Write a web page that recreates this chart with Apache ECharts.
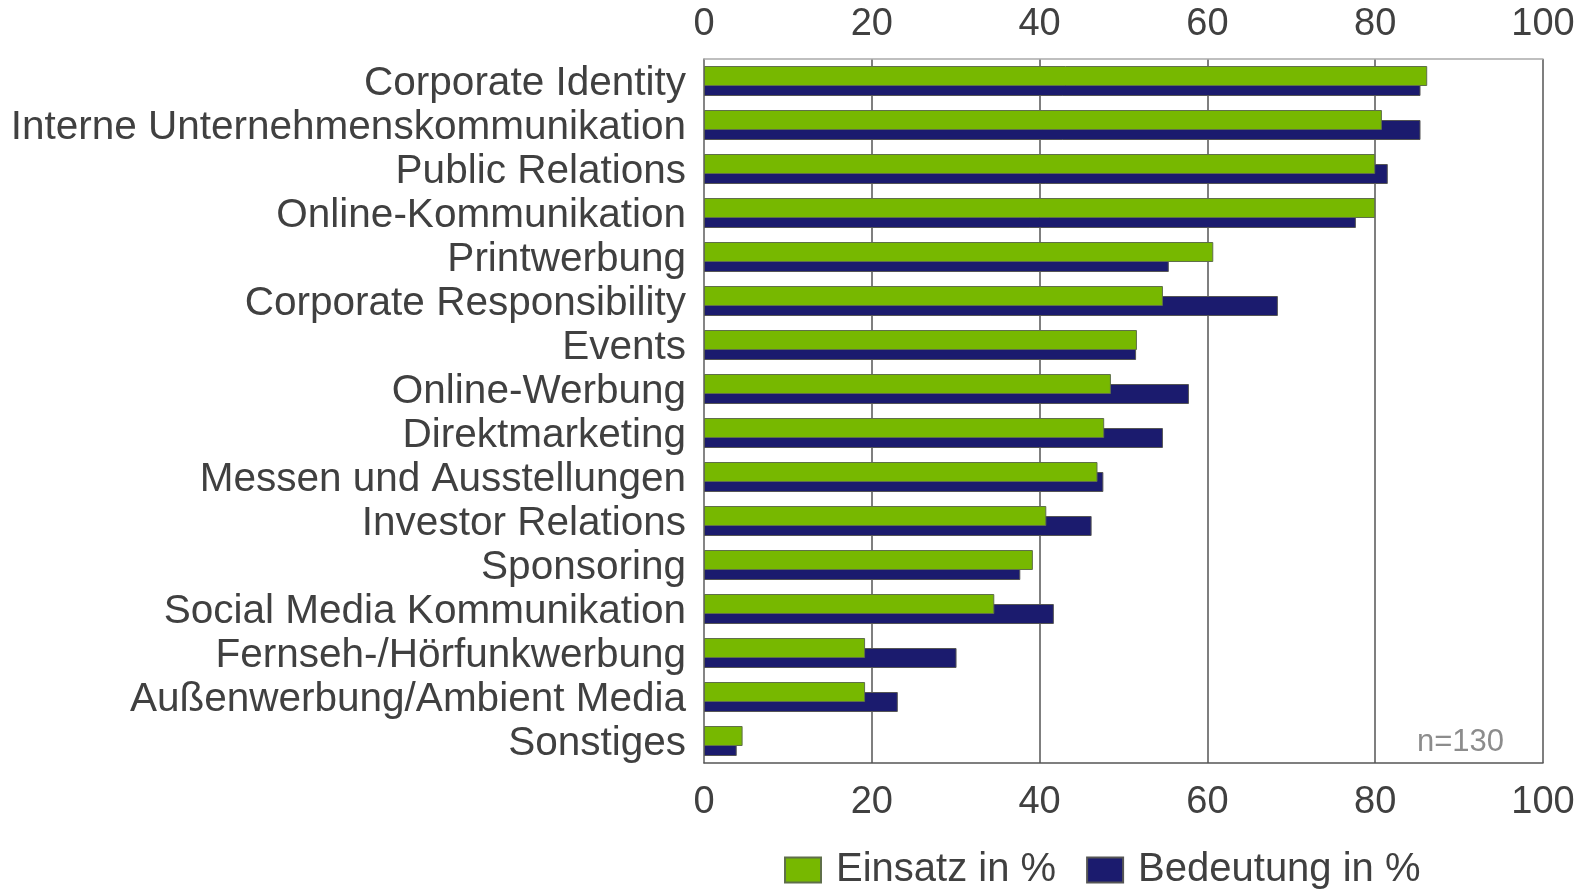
<!DOCTYPE html>
<html>
<head>
<meta charset="utf-8">
<script src="https://cdn.jsdelivr.net/npm/echarts@6/dist/echarts.min.js"></script>
<style>
  html, body { margin: 0; padding: 0; background: #fff; }
  #chart { width: 1585px; height: 889px; }
</style>
</head>
<body>
<div id="chart"></div>
<script>
var categories = ['Corporate Identity', 'Interne Unternehmenskommunikation', 'Public Relations', 'Online-Kommunikation',
    'Printwerbung', 'Corporate Responsibility', 'Events', 'Online-Werbung', 'Direktmarketing',
    'Messen und Ausstellungen', 'Investor Relations', 'Sponsoring', 'Social Media Kommunikation',
    'Fernseh-/Hörfunkwerbung', 'Außenwerbung/Ambient Media', 'Sonstiges'];
var einsatz = [86.2, 80.8, 80.0, 80.0, 60.7, 54.7, 51.6, 48.5, 47.7, 46.9, 40.8, 39.2, 34.6, 19.2, 19.2, 4.6];
var bedeutung = [85.4, 85.4, 81.5, 77.7, 55.4, 68.4, 51.5, 57.8, 54.7, 47.6, 46.2, 37.7, 41.7, 30.1, 23.1, 3.9];
var seriesNames = ['Einsatz in %', 'Bedeutung in %'];
var noteText = 'n=130';

var chartDom = document.getElementById('chart');
var myChart = echarts.init(chartDom);
var fontName = '"Liberation Sans", Arial, sans-serif';

var xAxisCommon = {
    type: 'value',
    min: 0,
    max: 100,
    interval: 20,
    axisTick: { show: false },
    axisLabel: {
        color: '#404040',
        fontSize: 38,
        fontFamily: fontName
    }
};

var option = {
    animation: false,
    grid: {
        left: 704,
        right: 42,
        top: 59,
        bottom: 126,
        containLabel: false
    },
    legend: {
        left: 779,
        top: 843,
        itemWidth: 36,
        itemHeight: 25,
        itemGap: 30,
        icon: 'rect',
        textStyle: {
            color: '#404040',
            fontSize: 40,
            fontFamily: fontName,
            lineHeight: 44,
            padding: [0, 0, 0, 10]
        },
        data: seriesNames
    },
    xAxis: [
        Object.assign({}, xAxisCommon, {
            position: 'bottom',
            axisLabel: Object.assign({}, xAxisCommon.axisLabel, { margin: 21 }),
            axisLine: { show: true, lineStyle: { color: '#555', width: 1.5 } },
            splitLine: { show: true, lineStyle: { color: '#555', width: 1.5 } }
        }),
        Object.assign({}, xAxisCommon, {
            position: 'top',
            axisLabel: Object.assign({}, xAxisCommon.axisLabel, { margin: 15 }),
            axisLine: { show: true, lineStyle: { color: '#aaa', width: 1.5 } },
            splitLine: { show: false }
        })
    ],
    yAxis: {
        type: 'category',
        data: categories,
        inverse: true,
        axisTick: { show: false },
        axisLine: { show: true, lineStyle: { color: '#888', width: 1.5 } },
        axisLabel: {
            interval: 0,
            margin: 18,
            formatter: function (value) {
                return '{c|' + value + '}';
            },
            rich: {
                c: {
                    color: '#404040',
                    fontSize: 40.5,
                    fontFamily: fontName,
                    padding: [6, 0, 0, 0]
                }
            }
        }
    },
    graphic: [{
        type: 'text',
        right: 81,
        top: 727,
        style: {
            text: noteText,
            fill: '#8c8c8c',
            fontSize: 31,
            fontFamily: fontName
        }
    }],
    series: [
        {
            name: seriesNames[0],
            type: 'bar',
            data: einsatz,
            barWidth: 20,
            barGap: '-50%',
            z: 3,
            itemStyle: {
                color: '#77b800',
                borderColor: '#5f6f4a',
                borderWidth: 1
            }
        },
        {
            name: seriesNames[1],
            type: 'bar',
            data: bedeutung,
            barWidth: 20,
            z: 2,
            itemStyle: {
                color: '#1b1b6e',
                borderColor: '#555',
                borderWidth: 1
            }
        }
    ]
};

option && myChart.setOption(option);
</script>
</body>
</html>
